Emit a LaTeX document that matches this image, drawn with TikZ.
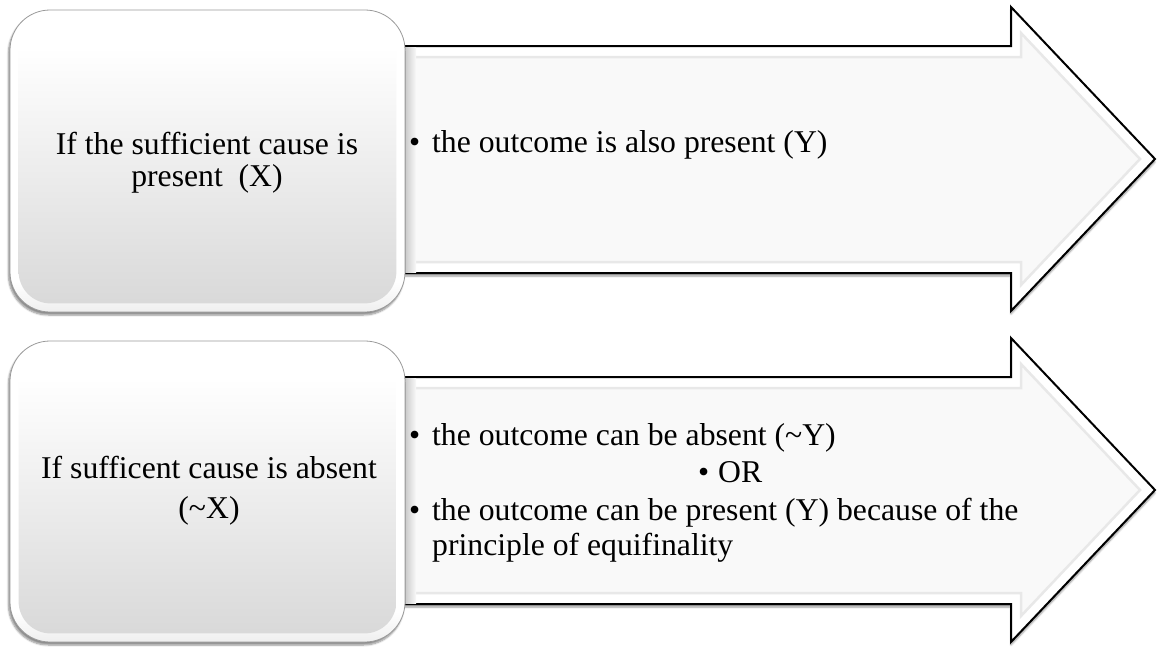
\documentclass[tikz,border=0pt]{standalone}
\usepackage{fontspec}
\setmainfont{Liberation Serif}
\usetikzlibrary{shadows.blur}

\definecolor{rimline}{HTML}{9A9A9A}
\definecolor{bevelgray}{HTML}{E8E8E8}
\definecolor{arrowface}{HTML}{F9F9F9}
\definecolor{capbottom}{HTML}{C4C4C4}
\definecolor{capmid}{HTML}{DDDDDD}

% vertical gradients for the rounded caption boxes (first stop = bottom)
\pgfdeclareverticalshading{caprim}{100bp}{color(0bp)=(capbottom!85!black); color(12bp)=(capbottom); color(30bp)=(white); color(100bp)=(white)}
\pgfdeclareverticalshading{capface}{100bp}{color(0bp)=(capbottom); color(30bp)=(capmid); color(70bp)=(white); color(100bp)=(white)}

\tikzset{
  lbl/.style={font=\fontsize{31.7}{32}\selectfont, inner sep=0pt, text=black},
  capbox/.style={rectangle, rounded corners=40pt, minimum width=395pt,
    shading=caprim, draw=rimline, line width=0.8pt,
    blur shadow={shadow xshift=-1.5pt, shadow yshift=-3pt, shadow blur steps=6, shadow opacity=45}},
  capinner/.style={rounded corners=32pt, shading=capface},
  arrowshape/.style={fill=white, draw=black, line width=2pt, line join=miter,
    blur shadow={shadow xshift=0pt, shadow yshift=-3pt, shadow blur steps=6, shadow opacity=40}},
  arrowbevel/.style={fill=arrowface, draw=bevelgray, line width=2.5pt, line join=miter},
}

\begin{document}
\begin{tikzpicture}[x=1pt,y=-1pt]
\useasboundingbox (0,0) rectangle (1157,646);

% ---- the two block arrows (drawn first, the boxes overlap their tails)
\foreach \dy in {0,331}{
  \begin{scope}[yshift=-\dy pt]
    \path[arrowshape] (396,46) -- (1011,46) -- (1011,7) -- (1155,159)
      -- (1011,311) -- (1011,273) -- (396,273) -- cycle;
    \path[arrowbevel] (414,57) -- (1021,57) -- (1021,33) -- (1140,159)
      -- (1021,285) -- (1021,262) -- (414,262) -- cycle;
    \shade[left color=gray!45, right color=arrowface] (404,47) rectangle (416,272);
  \end{scope}
}

% ---- rounded caption boxes
\node[capbox, minimum height=302pt] (box1) at (207.5,161) {};
\shade[capinner] ([shift={(9,9)}]box1.north west) rectangle ([shift={(-9,-9)}]box1.south east);
\node[capbox, minimum height=301pt] (box2) at (207.5,491.5) {};
\shade[capinner] ([shift={(9,9)}]box2.north west) rectangle ([shift={(-9,-9)}]box2.south east);

% ---- captions
\node[lbl, align=center] (cap1) at (207,163) {If the sufficient cause is\\present\ \ (X)};
\node[lbl, align=center, font=\fontsize{31.7}{40}\selectfont] (cap2) at (209,491)
  {If sufficent cause is absent\\(\textasciitilde X)};

% ---- arrow texts
\node[lbl, anchor=base west] (out1) at (409,152)
  {\makebox[23pt][l]{\textbullet}the outcome is also present (Y)};
\node[lbl, anchor=base west] (out2) at (409,445)
  {\makebox[23pt][l]{\textbullet}the outcome can be absent (\textasciitilde Y)};
\node[lbl, anchor=base west] (out3) at (698,482)
  {\makebox[20pt][l]{\textbullet}OR};
% base anchor of a two-line node sits on its last line
\node[lbl, anchor=base west, align=left, font=\fontsize{31.7}{35}\selectfont] (out4) at (409,555)
  {\makebox[23pt][l]{\textbullet}the outcome can be present (Y) because of the\\
   \hspace*{23pt}principle of equifinality};
\end{tikzpicture}
\end{document}
